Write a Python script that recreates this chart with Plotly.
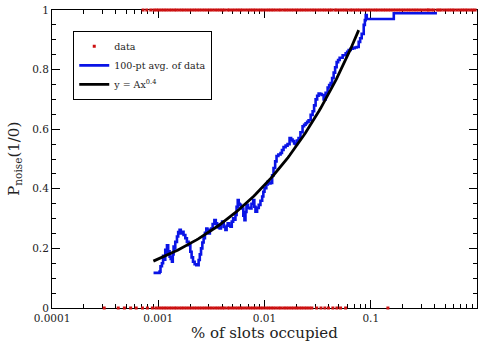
import numpy as np
import plotly.graph_objects as go

# Raw 0/1 outcomes, positions along the occupancy axis (% of slots)
data_x_one = [0.00072, 0.00078, 0.00085, 0.00091, 0.00096, 0.00101, 0.00107, 0.00113, 0.00119,
              0.00126, 0.00133, 0.00141, 0.00148, 0.00157, 0.00166, 0.00175, 0.00185, 0.00196,
              0.00207, 0.00219, 0.00231, 0.00244, 0.00258, 0.00273, 0.00289, 0.00305, 0.00322,
              0.00341, 0.0036, 0.0038, 0.0040, 0.0042, 0.0045, 0.0047, 0.0050, 0.0053, 0.0056,
              0.0059, 0.0062, 0.0066, 0.0070, 0.0074, 0.0078, 0.0082, 0.0087, 0.0092, 0.0097,
              0.0103, 0.0109, 0.0115, 0.0121, 0.0128, 0.0136, 0.0143, 0.0152, 0.0160, 0.0169,
              0.0179, 0.0189, 0.0200, 0.0211, 0.0223, 0.0236, 0.0249, 0.0264, 0.0279, 0.0294,
              0.0311, 0.0329, 0.0348, 0.0367, 0.0388, 0.041, 0.043, 0.046, 0.048, 0.051, 0.054,
              0.057, 0.060, 0.064, 0.067, 0.071, 0.075, 0.079, 0.084, 0.089, 0.094, 0.099, 0.105,
              0.111, 0.117, 0.124, 0.131, 0.138, 0.146, 0.154, 0.163, 0.172, 0.182, 0.192, 0.203,
              0.215, 0.227, 0.240, 0.254, 0.268, 0.283, 0.30, 0.32, 0.34, 0.35, 0.37, 0.39, 0.42,
              0.44, 0.46, 0.49, 0.52, 0.55, 0.58, 0.61, 0.65, 0.69, 0.73, 0.77, 0.81, 0.86, 0.91,
              0.96]
data_x_zero = [0.00031, 0.00042, 0.00048, 0.00055, 0.00062, 0.00071, 0.00079, 0.00088, 0.00095,
               0.00101, 0.00107, 0.00113, 0.00119, 0.00126, 0.00133, 0.00141, 0.00148, 0.00157,
               0.00166, 0.00175, 0.00185, 0.00196, 0.00207, 0.00219, 0.00231, 0.00244, 0.00258,
               0.00273, 0.00289, 0.00305, 0.00322, 0.00341, 0.0036, 0.0038, 0.0040, 0.0042,
               0.0045, 0.0047, 0.0050, 0.0053, 0.0056, 0.0059, 0.0062, 0.0066, 0.0070, 0.0074,
               0.0078, 0.0082, 0.0087, 0.0092, 0.0097, 0.0103, 0.0109, 0.0115, 0.0121, 0.0128,
               0.0136, 0.0143, 0.0152, 0.0160, 0.0169, 0.0179, 0.0189, 0.0200, 0.0211, 0.0223,
               0.0236, 0.0249, 0.0264, 0.0279, 0.031, 0.034, 0.037, 0.040, 0.044, 0.048, 0.052,
               0.058, 0.145]

# 100-point running average of the data
avg_x = [0.000903, 0.000980, 0.001029, 0.001050, 0.001083, 0.001110, 0.001140, 0.001164,
         0.001190, 0.001208, 0.001240, 0.001279, 0.001310, 0.001346, 0.001370, 0.001394,
         0.001420, 0.001446, 0.001500, 0.001540, 0.001588, 0.001630, 0.001673, 0.001730,
         0.001798, 0.001860, 0.001931, 0.002004, 0.002060, 0.002124, 0.002200, 0.002282,
         0.002399, 0.002460, 0.002527, 0.002600, 0.002673, 0.002750, 0.002835, 0.002900,
         0.002982, 0.003060, 0.003143, 0.003250, 0.003375, 0.003480, 0.003580, 0.003680,
         0.003786, 0.003890, 0.003990, 0.004130, 0.004285, 0.004400, 0.004506, 0.004640,
         0.004779, 0.004920, 0.005069, 0.005200, 0.005326, 0.005460, 0.005600, 0.005720,
         0.005846, 0.006000, 0.006158, 0.006320, 0.006477, 0.006620, 0.006765, 0.007000,
         0.007268, 0.007540, 0.007822, 0.008020, 0.008222, 0.008520, 0.008831, 0.009160,
         0.009508, 0.009750, 0.01000, 0.01040, 0.01074, 0.01110, 0.01139, 0.01180, 0.01216,
         0.01260, 0.01298, 0.01350, 0.01416, 0.01460, 0.01511, 0.01580, 0.01648, 0.01722,
         0.01780, 0.01837, 0.01900, 0.01960, 0.02020, 0.02092, 0.02180, 0.02282, 0.02360,
         0.02437, 0.02520, 0.02601, 0.02720, 0.02837, 0.02930, 0.03027, 0.03130, 0.03231,
         0.03340, 0.03448, 0.03602, 0.03760, 0.03929, 0.04060, 0.04193, 0.04330, 0.04475,
         0.04620, 0.04776, 0.04930, 0.05097, 0.05440, 0.05806, 0.06000, 0.06197, 0.06480,
         0.06759, 0.07050, 0.07372, 0.07701, 0.07950, 0.08219, 0.08587, 0.08800, 0.08970,
         0.09167, 0.1544, 0.1648, 0.4198]
avg_y = [0.118, 0.118, 0.122, 0.140, 0.150, 0.175, 0.162, 0.195,
         0.182, 0.210, 0.190, 0.172, 0.165, 0.155, 0.180, 0.206,
         0.200, 0.222, 0.240, 0.255, 0.262, 0.250, 0.256, 0.245,
         0.234, 0.222, 0.211, 0.189, 0.170, 0.155, 0.147, 0.144,
         0.161, 0.180, 0.200, 0.220, 0.234, 0.252, 0.267, 0.258,
         0.250, 0.262, 0.267, 0.282, 0.295, 0.284, 0.279, 0.270,
         0.267, 0.282, 0.290, 0.272, 0.262, 0.276, 0.284, 0.276,
         0.273, 0.290, 0.301, 0.296, 0.312, 0.340, 0.362, 0.350,
         0.346, 0.338, 0.334, 0.310, 0.295, 0.322, 0.346, 0.336,
         0.334, 0.350, 0.362, 0.340, 0.323, 0.336, 0.346, 0.360,
         0.374, 0.390, 0.402, 0.415, 0.424, 0.418, 0.420, 0.445, 0.470,
         0.492, 0.510, 0.515, 0.520, 0.530, 0.540, 0.545, 0.550, 0.570,
         0.565, 0.560, 0.552, 0.550, 0.562, 0.570, 0.590, 0.610, 0.615,
         0.620, 0.625, 0.630, 0.648, 0.660, 0.680, 0.700, 0.712, 0.720,
         0.718, 0.715, 0.700, 0.722, 0.740, 0.748, 0.755, 0.772, 0.790,
         0.808, 0.825, 0.832, 0.840, 0.848, 0.855, 0.860, 0.866, 0.870,
         0.872, 0.874, 0.876, 0.893, 0.905, 0.920, 0.950, 0.966, 0.983,
         0.970, 0.970, 0.989, 0.989]

# Power-law fit y = A x^0.4
fit_A = 2.6
fit_exp = 0.4
fit_x = np.logspace(np.log10(0.0009), np.log10(0.077), 120)
fit_y = fit_A * fit_x ** fit_exp

x_tickvals = [0.0001, 0.001, 0.01, 0.1, 1]
x_ticktext = ["0.0001", "0.001", "0.01", "0.1", "1"]
y_tickvals = [0, 0.2, 0.4, 0.6, 0.8, 1]
y_ticktext = ["0", "0.2", "0.4", "0.6", "0.8", "1"]

serif = "DejaVu Serif"
ink = "#222222"

fig = go.Figure()
fig.add_trace(go.Scatter(
    x=data_x_one + data_x_zero,
    y=[1] * len(data_x_one) + [0] * len(data_x_zero),
    mode="markers", name="data", cliponaxis=False,
    marker=dict(color="#cc1010", size=3, symbol="square"),
))
fig.add_trace(go.Scatter(
    x=avg_x, y=avg_y, mode="lines", name="100-pt avg. of data",
    line=dict(color="#0a14e6", width=2.6, shape="hv"),
))
fig.add_trace(go.Scatter(
    x=fit_x, y=fit_y, mode="lines", name="y = Ax<sup>0.4</sup>",
    line=dict(color="black", width=2.8),
))

axis_common = dict(
    showline=True, linecolor="black", linewidth=1, mirror="allticks",
    ticks="inside", ticklen=8, tickcolor="black", tickwidth=1,
    showgrid=False, zeroline=False, layer="below traces",
    tickfont=dict(family=serif, size=10.5, color=ink),
)

fig.update_layout(
    width=478, height=341,
    margin=dict(l=52, r=1, t=10, b=33),
    paper_bgcolor="white", plot_bgcolor="white",
    font=dict(family=serif, color="black"),
    showlegend=True,
    legend=dict(
        x=0.05, y=0.93, xanchor="left", yanchor="top",
        bordercolor="black", borderwidth=1, bgcolor="white",
        font=dict(family=serif, size=9.5, color=ink),
        itemwidth=30, tracegroupgap=0,
    ),
    xaxis=dict(
        type="log", range=[-4, 0],
        tickvals=x_tickvals, ticktext=x_ticktext,
        minor=dict(ticks="inside", ticklen=4, tickcolor="black", dtick="D1", showgrid=False),
        **axis_common,
    ),
    yaxis=dict(
        range=[0, 1],
        tickvals=y_tickvals, ticktext=y_ticktext,
        minor=dict(ticks="inside", ticklen=4, tickcolor="black", dtick=0.05, showgrid=False),
        **axis_common,
    ),
    annotations=[
        dict(text="% of slots occupied", xref="paper", yref="paper",
             x=0.5, y=-0.085, xanchor="center", yanchor="middle", showarrow=False,
             font=dict(family=serif, size=15, color=ink)),
        dict(text="P<sub>noise</sub>(1/0)", xref="paper", yref="paper",
             x=-0.09, y=0.5, xanchor="center", yanchor="middle", showarrow=False,
             textangle=-90, font=dict(family=serif, size=15, color=ink)),
    ],
)

fig.write_html("out.html")
